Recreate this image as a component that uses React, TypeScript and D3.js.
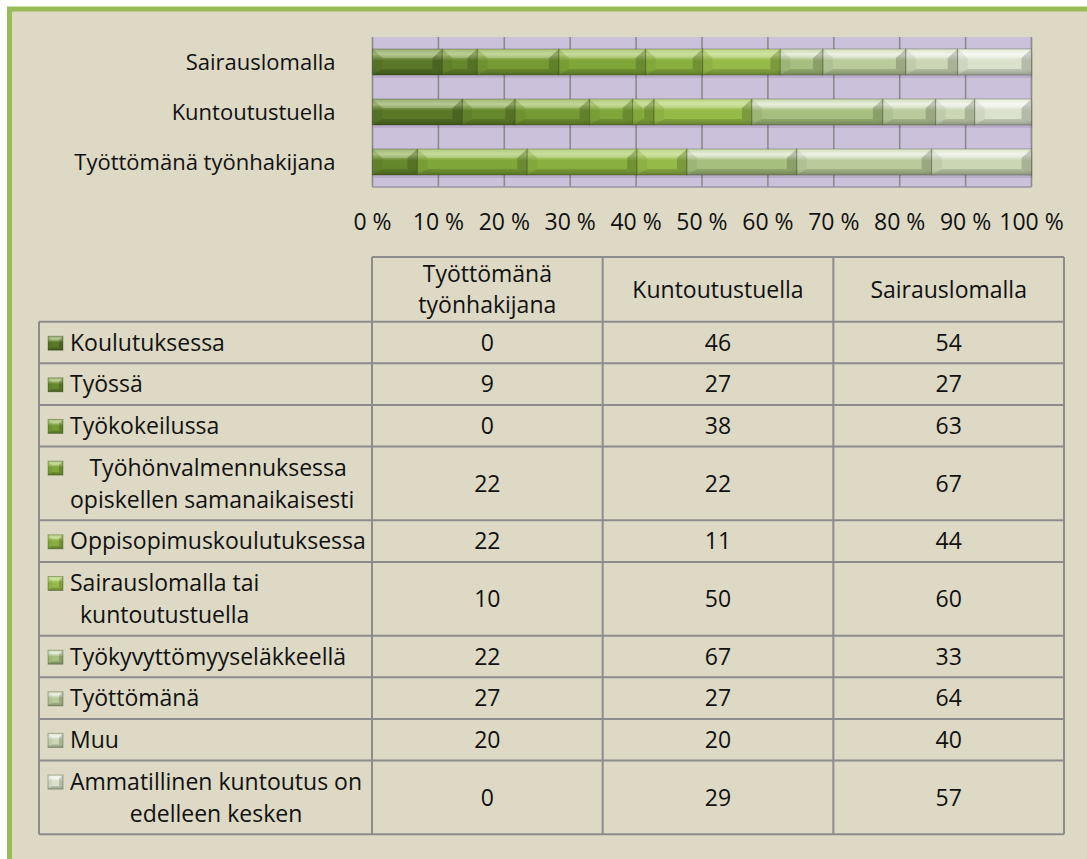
import React from "react";
import * as d3 from "d3";

// ---------- DATA ----------
const barGroups = ["Sairauslomalla", "Kuntoutustuella", "Työttömänä työnhakijana"]; // top -> bottom
const tableColumns = ["Työttömänä työnhakijana", "Kuntoutustuella", "Sairauslomalla"];
const tableHeaderLines = [["Työttömänä", "työnhakijana"], ["Kuntoutustuella"], ["Sairauslomalla"]];
const seriesNames = [
  "Koulutuksessa",
  "Työssä",
  "Työkokeilussa",
  "Työhönvalmennuksessa opiskellen samanaikaisesti",
  "Oppisopimuskoulutuksessa",
  "Sairauslomalla tai kuntoutustuella",
  "Työkyvyttömyyseläkkeellä",
  "Työttömänä",
  "Muu",
  "Ammatillinen kuntoutus on edelleen kesken",
];
const seriesLabelLines = [
  ["Koulutuksessa"],
  ["Työssä"],
  ["Työkokeilussa"],
  ["  Työhönvalmennuksessa", "opiskellen samanaikaisesti"],
  ["Oppisopimuskoulutuksessa"],
  ["Sairauslomalla tai", "kuntoutustuella"],
  ["Työkyvyttömyyseläkkeellä"],
  ["Työttömänä"],
  ["Muu"],
  ["Ammatillinen kuntoutus on", "edelleen kesken"],
];
const tyottomanaValues = [0, 9, 0, 22, 22, 10, 22, 27, 20, 0];
const kuntoutustuellaValues = [46, 27, 38, 22, 11, 50, 67, 27, 20, 29];
const sairauslomallaValues = [54, 27, 63, 67, 44, 60, 33, 64, 40, 57];
const axisTicks = [0, 0.1, 0.2, 0.3, 0.4, 0.5, 0.6, 0.7, 0.8, 0.9, 1];

// palette (dark olive -> near white)
const seriesColors = [
  "#5A7828", "#66882C", "#759A33", "#7FA638", "#89B03E",
  "#96BA48", "#A6BF7E", "#B9CB9B", "#CAD6B4", "#DAE1CC",
];

const W = 1087;
const H = 859;
const FONT = "'Open Sans', 'DejaVu Sans', sans-serif";
const FS_TABLE = 23;
const FS_AXIS = 23;
const FS_CAT = 22;

let _ctx: CanvasRenderingContext2D | null = null;
function measure(s: string, fs: number): number {
  if (!_ctx) {
    const c = document.createElement("canvas");
    _ctx = c.getContext("2d");
  }
  if (!_ctx) return s.length * fs * 0.5;
  _ctx.font = `${fs}px 'Open Sans'`;
  return _ctx.measureText(s).width;
}

function Bevel({ x0, x1, y0, y1, i, b = 10, ti = 9, bi = 6 }: any) {
  const w = x1 - x0;
  if (w <= 0.01) return null;
  const bb = Math.min(b, w / 2);
  const p = (pts: number[][]) => pts.map((q) => q.join(",")).join(" ");
  return (
    <g>
      <rect x={x0} y={y0} width={w} height={y1 - y0} fill={`url(#grad${i})`} />
      <polygon points={p([[x0, y0], [x1, y0], [x1 - bb, y0 + ti], [x0 + bb, y0 + ti]])} fill="#ffffff" fillOpacity={0.2} />
      <polygon points={p([[x0, y1], [x1, y1], [x1 - bb, y1 - bi], [x0 + bb, y1 - bi]])} fill="#000000" fillOpacity={0.14} />
      <polygon points={p([[x0, y0], [x0 + bb, y0 + ti], [x0 + bb, y1 - bi], [x0, y1]])} fill="#000000" fillOpacity={0.05} />
      <polygon points={p([[x1, y0], [x1 - bb, y0 + ti], [x1 - bb, y1 - bi], [x1, y1]])} fill="#000000" fillOpacity={0.17} />
      <rect x={x0} y={y0} width={w} height={y1 - y0} fill="none" stroke="#1E2A08" strokeOpacity={0.3} strokeWidth={1} />
    </g>
  );
}

export default function App() {
  const valuesByGroup: Record<string, number[]> = {
    "Työttömänä työnhakijana": tyottomanaValues,
    Kuntoutustuella: kuntoutustuellaValues,
    Sairauslomalla: sairauslomallaValues,
  };
  const rows = barGroups.map((g) => {
    const o: any = { group: g };
    seriesNames.forEach((s, i) => (o[s] = valuesByGroup[g][i]));
    return o;
  });
  const stacked = d3.stack<any>().keys(seriesNames).offset(d3.stackOffsetExpand)(rows);

  const plotLeft = 372.5, plotRight = 1031.5, plotTop = 37, plotBottom = 187;
  const x = d3.scaleLinear().domain([0, 1]).range([plotLeft, plotRight]);
  const y = d3.scaleBand().domain(barGroups).range([plotTop, plotBottom]).paddingInner(0.48).paddingOuter(0.24);
  const fmt = (d: number) => `${Math.round(d * 100)} %`;

  // table geometry
  const tableLeft = 39, colLeft = 372, tableRight = 1064;
  const headerTop = 257, headerBottom = 321.7;
  const col = d3.scaleBand().domain(tableColumns).range([colLeft, tableRight]);
  const rowH = (n: number) => (n === 1 ? 41.6 : 73.8);
  const rowTops: number[] = [];
  let acc = headerBottom;
  seriesLabelLines.forEach((l) => { rowTops.push(acc); acc += rowH(l.length); });
  const tableBottom = acc;
  const lineGap = 32;
  const stroke = "#8C8C8C";
  const capT = FS_TABLE * 0.357;

  return (
    <svg width={W} height={H} style={{ position: "fixed", left: 0, top: 0 }} fontFamily={FONT}>
      <defs>
        {seriesColors.map((c, i) => {
          const light = i >= 6;
          const hi = d3.interpolateRgb(c, light ? "#FFFFFF" : "#F2FFC8")(light ? 0.7 : 0.5);
          const dk = d3.color(c)!.darker(0.55).formatHex();
          return (
            <linearGradient key={i} id={`grad${i}`} x1="0" y1="0" x2="0" y2="1">
              <stop offset="0" stopColor={d3.interpolateRgb(c, "#F6FFD8")(0.25)} />
              <stop offset="0.2" stopColor={hi} />
              <stop offset="0.45" stopColor={c} />
              <stop offset="0.8" stopColor={c} />
              <stop offset="1" stopColor={dk} />
            </linearGradient>
          );
        })}
      </defs>
      <rect x={0} y={0} width={W} height={H} fill="#ffffff" />
      <rect x={9.5} y={9} width={1200} height={1000} fill="#DDD9C4" stroke="#9BBB59" strokeWidth={5} />

      {/* plot area */}
      <rect x={plotLeft} y={plotTop} width={plotRight - plotLeft} height={plotBottom - plotTop} fill="#CCC1DA" />
      {axisTicks.map((t) => (
        <line key={t} x1={x(t)} x2={x(t)} y1={plotTop} y2={plotBottom} stroke="#8B8B8B" strokeWidth={1.6} />
      ))}
      <line x1={plotLeft} x2={plotRight} y1={plotBottom} y2={plotBottom} stroke="#9A94A6" strokeWidth={1.5} />

      {barGroups.map((g) => (
        <rect key={g} x={plotLeft + 1} y={(y(g) as number) + 3} width={plotRight - plotLeft} height={y.bandwidth()} fill="#3C2A5A" fillOpacity={0.12} />
      ))}
      {stacked.map((layer, i) =>
        layer.map((d, j) => (
          <Bevel key={`${i}-${j}`} i={i} x0={x(d[0])} x1={x(d[1])} y0={y(barGroups[j]) as number} y1={(y(barGroups[j]) as number) + y.bandwidth()} />
        ))
      )}

      {barGroups.map((g) => (
        <text key={g} x={plotLeft - 37} y={(y(g) as number) + y.bandwidth() / 2 + FS_CAT * 0.357} textAnchor="end" fontSize={FS_CAT} fill="#111">
          {g}
        </text>
      ))}
      {axisTicks.map((t) => (
        <text key={t} x={x(t)} y={230} textAnchor="middle" fontSize={FS_AXIS} fill="#111">
          {fmt(t)}
        </text>
      ))}

      {/* data table */}
      <g stroke={stroke} strokeWidth={2} fill="none">
        <line x1={colLeft} x2={tableRight} y1={headerTop} y2={headerTop} />
        {rowTops.map((t, i) => (
          <line key={i} x1={tableLeft} x2={tableRight} y1={t} y2={t} />
        ))}
        <line x1={tableLeft} x2={tableRight} y1={tableBottom} y2={tableBottom} />
        <line x1={tableLeft} x2={tableLeft} y1={headerBottom} y2={tableBottom} />
        {tableColumns.map((c) => (
          <line key={c} x1={col(c)} x2={col(c)} y1={headerTop} y2={tableBottom} />
        ))}
        <line x1={tableRight} x2={tableRight} y1={headerTop} y2={tableBottom} />
      </g>
      {tableColumns.map((c, ci) => {
        const lines = tableHeaderLines[ci];
        const cx = (col(c) as number) + col.bandwidth() / 2;
        const cy = (headerTop + headerBottom) / 2;
        return (
          <text key={c} textAnchor="middle" fontSize={FS_TABLE} fill="#111">
            {lines.map((l, li) => (
              <tspan key={li} x={cx} y={cy + capT + (li - (lines.length - 1) / 2) * 31.6}>{l}</tspan>
            ))}
          </text>
        );
      })}
      {seriesNames.map((s, i) => {
        const lines = seriesLabelLines[i];
        const top = rowTops[i];
        const h = rowH(lines.length);
        const cy = top + h / 2;
        const firstBase = cy + capT - ((lines.length - 1) / 2) * lineGap;
        const maxW = Math.max(...lines.map((l) => measure(l, FS_TABLE)));
        const cxLabel = 70 + maxW / 2;
        const vals = [tyottomanaValues[i], kuntoutustuellaValues[i], sairauslomallaValues[i]];
        return (
          <g key={s}>
            <Bevel i={i} x0={48} x1={63} y0={firstBase - 14.5} y1={firstBase - 0.5} b={4} ti={4} bi={3} />
            <text textAnchor={lines.length > 1 ? "middle" : "start"} fontSize={FS_TABLE} fill="#111" style={{ whiteSpace: "pre" }}>
              {lines.map((l, li) => (
                <tspan key={li} x={lines.length > 1 ? cxLabel : 70} y={firstBase + li * lineGap}>{l}</tspan>
              ))}
            </text>
            {tableColumns.map((c, ci) => (
              <text key={c} x={(col(c) as number) + col.bandwidth() / 2} y={cy + capT} textAnchor="middle" fontSize={FS_TABLE} fill="#111">
                {vals[ci]}
              </text>
            ))}
          </g>
        );
      })}
    </svg>
  );
}
